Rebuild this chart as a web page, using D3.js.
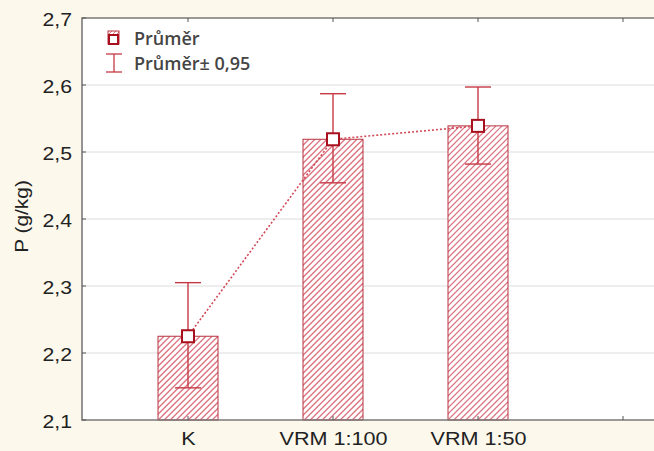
<!DOCTYPE html>
<html><head><meta charset="utf-8">
<script src="https://cdn.jsdelivr.net/npm/d3@7"></script>
<style>
html,body{margin:0;padding:0;background:#fcf8ec;}
svg{display:block;}
</style></head>
<body>
<script>
const categories = ["K", "VRM 1:100", "VRM 1:50"];
const means = [2.225, 2.519, 2.539];
const upper = [2.305, 2.587, 2.597];
const lower = [2.148, 2.454, 2.482];
const yTicks = [2.1, 2.2, 2.3, 2.4, 2.5, 2.6, 2.7];
const yTitle = "P (g/kg)";
const legendLabels = ["Průměr", "Průměr± 0,95"];

(function () {
const W = 654, H = 451;
const svg = d3.select("body").append("svg").attr("width", W).attr("height", H);
const pL = 82, pT = 18, pB = 420, pR = 670;
const FONT = "Liberation Sans, Arial, sans-serif";
const SX = 1.18;
const HATCH = "#dc7482";

const y = d3.scaleLinear().domain([2.1, 2.7]).range([pB, pT]);
const x = d3.scaleLinear().domain([0, 3]).range([188, 623]);
const defs = svg.append("defs");

function hatchRect(g, x0, y0, w, h, id, step, sw) {
  defs.append("clipPath").attr("id", id).append("rect")
    .attr("x", x0).attr("y", y0).attr("width", w).attr("height", h);
  g.append("rect").attr("x", x0).attr("y", y0).attr("width", w).attr("height", h).attr("fill", "#fff");
  const ks = d3.range(x0 - h, x0 + w + step, step);
  g.append("g").attr("clip-path", `url(#${id})`).selectAll("line").data(ks).join("line")
    .attr("x1", k => k).attr("y1", y0 + h).attr("x2", k => k + h).attr("y2", y0)
    .attr("stroke", HATCH).attr("stroke-width", sw);
}

// plot area
svg.append("rect").attr("x", pL).attr("y", pT).attr("width", pR - pL).attr("height", pB - pT)
  .attr("fill", "#fff");

// grid
svg.append("g").selectAll("line").data(yTicks.slice(1, -1)).join("line")
  .attr("x1", pL).attr("x2", pR).attr("y1", d => y(d)).attr("y2", d => y(d))
  .attr("stroke", "#dcdcdc").attr("stroke-width", 1);

// bars
const bw = 60;
const gb = svg.append("g");
means.forEach((m, i) => {
  const x0 = x(i) - bw / 2, y0 = y(m), h = pB - y(m);
  hatchRect(gb, x0, y0, bw, h, "clipbar" + i, 6, 1.3);
  gb.append("rect").attr("x", x0).attr("y", y0).attr("width", bw).attr("height", h)
    .attr("fill", "none").attr("stroke", "#b8323e").attr("stroke-width", 1);
});

// error bars
const eb = svg.append("g").attr("stroke", "#c63a46").attr("stroke-width", 1.4).attr("fill", "none");
means.forEach((m, i) => {
  const cx = x(i), cw = 13;
  eb.append("line").attr("x1", cx).attr("x2", cx).attr("y1", y(upper[i])).attr("y2", y(lower[i]));
  eb.append("line").attr("x1", cx - cw).attr("x2", cx + cw).attr("y1", y(upper[i])).attr("y2", y(upper[i]));
  eb.append("line").attr("x1", cx - cw).attr("x2", cx + cw).attr("y1", y(lower[i])).attr("y2", y(lower[i]));
});

// dotted connecting line
svg.append("path").datum(means)
  .attr("d", d3.line().x((d, i) => x(i)).y(d => y(d)))
  .attr("fill", "none").attr("stroke", "#d24a58").attr("stroke-width", 1.6)
  .attr("stroke-dasharray", "2,2");

// mean markers
svg.append("g").selectAll("rect").data(means).join("rect")
  .attr("x", (d, i) => x(i) - 6).attr("y", d => y(d) - 6)
  .attr("width", 12).attr("height", 12)
  .attr("fill", "#fff").attr("stroke", "#a8101e").attr("stroke-width", 2);

// frame
svg.append("path").attr("d", `M${pR},${pT}H${pL}V${pB}H${pR}`)
  .attr("fill", "none").attr("stroke", "#7a7a7a").attr("stroke-width", 1.6);

// y axis ticks & labels
const yAxis = d3.axisLeft(y).tickValues(yTicks).tickSize(0)
  .tickFormat(d => d3.format(".1f")(d).replace(".", ","));
const gy = svg.append("g").attr("transform", `translate(${pL},0)`).call(yAxis);
gy.select(".domain").remove();
gy.selectAll("text").attr("font-family", FONT).attr("font-size", 18).attr("fill", "#222")
  .attr("x", 0).attr("dy", "0.42em").attr("transform", `translate(-10,0) scale(${SX},1)`);
svg.append("g").selectAll("line").data(yTicks).join("line")
  .attr("x1", pL).attr("x2", pL + 4).attr("y1", d => y(d)).attr("y2", d => y(d))
  .attr("stroke", "#555");

// x axis
const xAxis = d3.axisBottom(x).tickValues([0, 1, 2, 3]).tickSize(0).tickPadding(12)
  .tickFormat(i => categories[i] || "");
const gx = svg.append("g").attr("transform", `translate(0,${pB})`).call(xAxis);
gx.select(".domain").remove();
gx.selectAll("text").attr("font-family", FONT).attr("font-size", 18).attr("fill", "#222")
  .attr("transform", `scale(1.2,1)`);
svg.append("g").selectAll("line").data([0, 1, 2, 3]).join("line")
  .attr("x1", d => x(d)).attr("x2", d => x(d)).attr("y1", pB).attr("y2", pB - 4)
  .attr("stroke", "#555");
svg.append("g").selectAll("line").data([0, 1, 2, 3]).join("line")
  .attr("x1", d => x(d)).attr("x2", d => x(d)).attr("y1", pT).attr("y2", pT + 4)
  .attr("stroke", "#555");

// y title
svg.append("text").attr("transform", `translate(28,216.5) rotate(-90) scale(1.16,1)`)
  .attr("text-anchor", "middle").attr("font-family", FONT)
  .attr("font-size", 18).attr("fill", "#222").text(yTitle);

// legend
const lg = svg.append("g");
const lx = 114;
hatchRect(lg, lx - 6, 31, 11, 13, "cliplegend", 4, 1);
lg.append("rect").attr("x", lx - 6).attr("y", 31).attr("width", 11).attr("height", 13)
  .attr("fill", "none").attr("stroke", "#b8323e");
lg.append("rect").attr("x", lx - 5).attr("y", 35).attr("width", 9).attr("height", 9)
  .attr("fill", "#fff").attr("stroke", "#a8101e").attr("stroke-width", 2);
lg.append("line").attr("x1", lx).attr("x2", lx).attr("y1", 54).attr("y2", 72).attr("stroke", "#c63a46").attr("stroke-width", 1.3);
lg.append("line").attr("x1", lx - 8).attr("x2", lx + 8).attr("y1", 54).attr("y2", 54).attr("stroke", "#c63a46").attr("stroke-width", 1.3);
lg.append("line").attr("x1", lx - 8).attr("x2", lx + 8).attr("y1", 72).attr("y2", 72).attr("stroke", "#c63a46").attr("stroke-width", 1.3);
lg.selectAll("text").data(legendLabels).join("text")
  .attr("x", 134).attr("y", (d, i) => 44.5 + i * 25)
  .attr("font-family", "Open Sans, sans-serif").attr("font-size", 18).attr("font-weight", 600)
  .attr("fill", "#454545").text(d => d);
})();
</script>
</body></html>
